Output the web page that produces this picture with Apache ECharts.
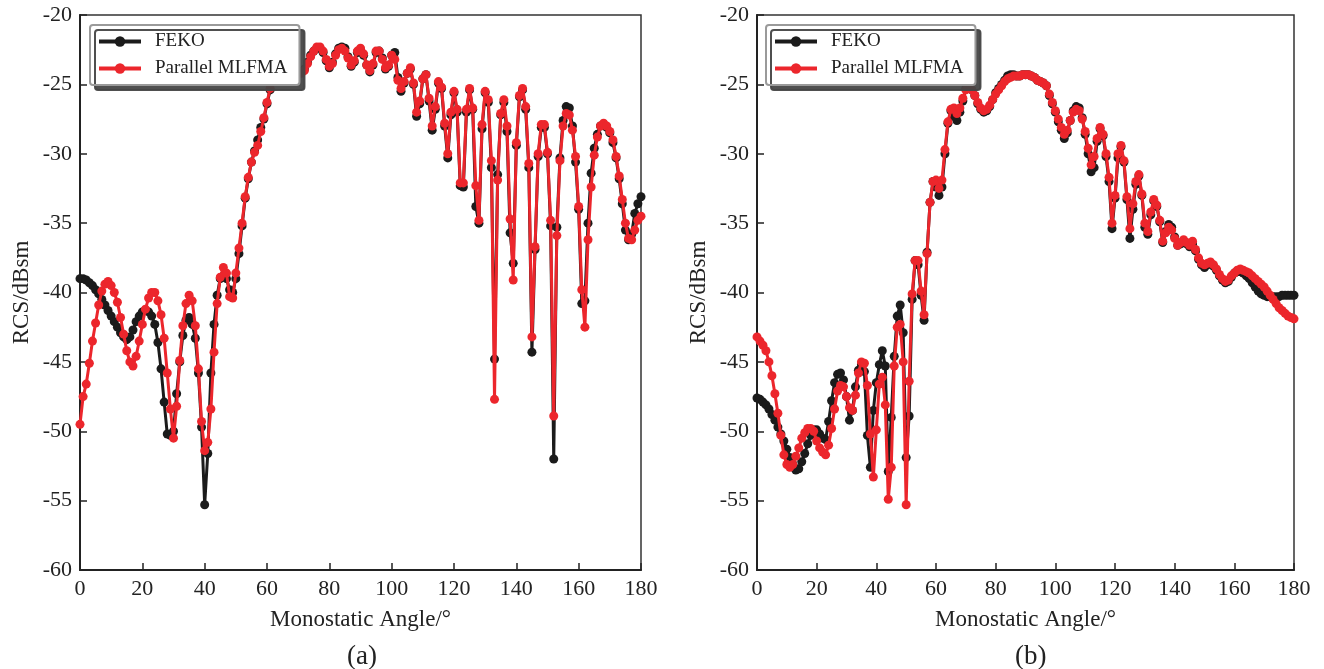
<!DOCTYPE html>
<html><head><meta charset="utf-8">
<script src="https://cdn.jsdelivr.net/npm/echarts@6/dist/echarts.min.js"></script>
<style>html,body{margin:0;padding:0;background:#fff}#c{width:1324px;height:669px}</style>
</head><body><div id="c"></div>
<script>
// Monostatic angle 0..180 step 1 degree
const angles = Array.from({length:181},(_,i)=>i);
const xTicks = [0,20,40,60,80,100,120,140,160,180];
const yTicks = [-60,-55,-50,-45,-40,-35,-30,-25,-20];
const seriesNames = ['FEKO','Parallel MLFMA'];
const panelLabels = ['(a)','(b)'];

// Panel (a)
const a_feko = [-39.0,-39.0,-39.1,-39.3,-39.5,-39.8,-40.1,-40.5,-40.9,-41.3,
-41.7,-42.1,-42.5,-42.9,-43.2,-43.4,-43.2,-42.7,-42.1,-41.7,
-41.4,-41.3,-41.4,-41.7,-42.3,-43.6,-45.5,-47.9,-50.2,-50.3,
-50.0,-47.3,-45.0,-43.1,-42.0,-41.8,-42.3,-43.3,-45.8,-49.7,
-55.3,-51.6,-45.8,-42.3,-40.2,-39.0,-38.8,-39.0,-39.8,-40.0,
-39.0,-37.2,-35.2,-33.2,-31.8,-30.6,-29.8,-29.0,-28.1,-27.5,
-26.4,-25.4,-24.8,-24.5,-24.4,-24.3,-24.3,-24.3,-24.3,-24.2,
-24.1,-24.1,-23.9,-23.4,-22.9,-22.6,-22.4,-22.4,-22.7,-23.3,
-23.8,-23.4,-22.8,-22.4,-22.3,-22.4,-23.0,-23.7,-23.4,-22.7,
-22.5,-22.9,-23.6,-24.1,-23.6,-22.7,-22.6,-23.1,-23.9,-23.7,
-22.9,-22.7,-24.5,-25.5,-24.9,-24.2,-23.9,-25.0,-27.3,-26.4,
-24.6,-24.3,-26.2,-28.3,-26.8,-24.9,-25.3,-28.0,-30.3,-27.2,
-25.6,-27.0,-32.3,-32.4,-27.0,-25.4,-26.8,-33.8,-35.0,-28.2,
-25.6,-26.3,-31.0,-44.8,-31.5,-27.2,-26.3,-28.4,-35.7,-37.9,
-29.4,-25.9,-25.4,-26.8,-31.0,-44.3,-36.9,-30.2,-28.1,-28.1,
-30.0,-35.2,-52.0,-35.3,-30.3,-27.6,-26.6,-26.7,-28.0,-30.6,
-34.0,-40.8,-40.6,-35.0,-31.4,-29.6,-28.6,-28.0,-27.9,-28.1,
-28.5,-29.2,-30.3,-31.8,-33.6,-35.5,-36.2,-35.8,-34.3,-33.6,
-33.1];
const a_mlfma = [-49.5,-47.5,-46.6,-45.1,-43.5,-42.2,-40.9,-39.9,-39.4,-39.2,
-39.5,-40.0,-40.7,-41.8,-43.0,-44.2,-45.0,-45.3,-44.6,-43.5,
-42.3,-41.2,-40.4,-40.0,-40.0,-40.6,-41.6,-43.3,-45.8,-48.4,
-50.5,-48.2,-44.9,-42.4,-40.8,-40.2,-40.6,-42.4,-45.5,-49.3,
-51.4,-50.8,-48.4,-44.3,-40.8,-38.9,-38.2,-38.6,-40.3,-40.4,
-38.6,-36.8,-35.0,-33.1,-31.7,-30.6,-29.9,-29.4,-28.4,-27.4,
-26.3,-25.3,-24.7,-24.4,-24.3,-24.2,-24.2,-24.3,-24.3,-24.2,
-24.1,-24.2,-24.0,-23.5,-23.0,-22.6,-22.3,-22.3,-22.6,-23.2,
-23.7,-23.5,-22.9,-22.5,-22.4,-22.6,-23.1,-23.6,-23.3,-22.6,
-22.4,-22.8,-23.6,-24.0,-23.5,-22.6,-22.6,-23.2,-23.8,-23.6,
-22.9,-23.2,-24.7,-25.3,-24.8,-24.2,-23.8,-24.9,-27.0,-26.2,
-24.6,-24.3,-26.0,-28.0,-26.6,-24.8,-25.2,-27.8,-30.0,-27.0,
-25.5,-26.8,-32.1,-32.1,-26.8,-25.3,-26.7,-32.3,-34.8,-27.9,
-25.5,-26.1,-30.5,-47.7,-31.9,-27.1,-26.1,-28.0,-34.7,-39.1,
-29.2,-25.8,-25.3,-26.6,-30.7,-43.2,-36.7,-30.0,-27.9,-27.9,
-29.9,-34.8,-48.9,-35.9,-30.5,-28.0,-27.1,-27.2,-28.3,-30.2,
-33.8,-39.8,-42.5,-36.2,-32.4,-30.1,-28.8,-28.0,-27.8,-28.0,
-28.4,-29.0,-30.2,-31.6,-33.3,-35.0,-36.1,-36.2,-35.5,-34.8,
-34.5];

// Panel (b)
const b_feko = [-47.6,-47.7,-47.9,-48.1,-48.4,-48.8,-49.2,-49.7,-50.2,-50.7,
-51.3,-51.9,-52.4,-52.8,-52.7,-52.2,-51.6,-50.9,-50.3,-49.9,
-49.9,-50.2,-50.5,-50.6,-49.3,-47.8,-46.5,-45.9,-45.8,-46.3,
-47.5,-49.2,-48.5,-46.8,-45.6,-45.2,-45.7,-50.3,-52.6,-48.5,
-46.5,-45.2,-44.2,-45.3,-52.9,-49.0,-44.6,-41.7,-40.9,-42.9,
-51.9,-48.9,-40.5,-37.7,-38.0,-40.2,-42.0,-37.1,-33.5,-32.0,
-32.4,-33.0,-32.4,-30.0,-27.8,-26.9,-27.3,-27.6,-27.0,-26.2,
-25.3,-25.2,-25.4,-25.8,-26.4,-26.8,-27.0,-26.9,-26.6,-26.1,
-25.6,-25.3,-25.0,-24.7,-24.4,-24.3,-24.3,-24.4,-24.4,-24.3,
-24.3,-24.3,-24.4,-24.5,-24.7,-24.8,-24.9,-25.1,-25.8,-26.4,
-27.0,-27.7,-28.3,-28.9,-28.5,-27.6,-26.9,-26.6,-26.7,-27.4,
-28.6,-30.0,-31.3,-31.0,-29.1,-28.2,-28.7,-30.2,-32.0,-35.4,
-33.2,-30.3,-29.5,-30.6,-33.3,-36.1,-34.0,-32.2,-31.6,-33.0,
-35.3,-35.8,-34.4,-33.4,-33.8,-34.9,-36.4,-35.6,-35.1,-35.3,
-36.0,-36.6,-36.5,-36.3,-36.5,-36.7,-36.5,-37.0,-37.6,-38.0,
-38.2,-38.0,-37.9,-38.1,-38.4,-38.8,-39.1,-39.3,-39.2,-38.9,
-38.6,-38.5,-38.5,-38.6,-38.8,-39.0,-39.3,-39.6,-39.9,-40.1,
-40.2,-40.3,-40.3,-40.3,-40.3,-40.3,-40.2,-40.2,-40.2,-40.2,
-40.2];
const b_mlfma = [-43.2,-43.5,-43.8,-44.2,-45.0,-46.0,-47.3,-48.7,-50.3,-51.7,
-52.4,-52.6,-52.4,-51.8,-51.2,-50.5,-50.1,-49.8,-49.8,-50.0,
-50.7,-51.2,-51.5,-51.7,-51.0,-49.8,-48.4,-47.1,-46.7,-46.8,
-47.5,-48.3,-48.5,-47.4,-45.8,-45.0,-45.1,-46.7,-50.2,-53.3,
-49.9,-46.6,-46.1,-48.1,-54.9,-52.6,-45.3,-42.5,-42.3,-45.0,
-55.3,-46.4,-40.1,-37.7,-37.7,-39.9,-41.6,-37.2,-33.5,-32.0,
-31.9,-32.5,-31.9,-29.7,-27.7,-26.8,-26.7,-27.1,-26.7,-26.0,
-25.4,-25.3,-25.4,-25.8,-26.3,-26.7,-26.9,-26.8,-26.5,-26.1,
-25.7,-25.4,-25.1,-24.8,-24.6,-24.5,-24.4,-24.4,-24.4,-24.3,
-24.3,-24.3,-24.4,-24.5,-24.7,-24.8,-24.9,-25.1,-25.7,-26.3,
-26.9,-27.5,-28.1,-28.6,-28.3,-27.6,-27.0,-26.8,-26.9,-27.5,
-28.4,-29.6,-30.8,-30.2,-28.9,-28.1,-28.6,-30.0,-31.7,-35.0,
-33.0,-30.0,-29.4,-30.5,-33.1,-35.4,-33.6,-32.0,-31.5,-32.9,
-35.0,-35.6,-34.2,-33.3,-33.7,-34.8,-36.3,-35.7,-35.3,-35.5,
-36.1,-36.6,-36.4,-36.2,-36.4,-36.6,-36.3,-36.9,-37.5,-37.9,
-38.0,-37.9,-37.8,-38.0,-38.3,-38.7,-39.0,-39.2,-39.1,-38.8,
-38.6,-38.4,-38.3,-38.4,-38.5,-38.6,-38.8,-39.0,-39.2,-39.4,
-39.6,-39.9,-40.2,-40.5,-40.8,-41.1,-41.3,-41.5,-41.7,-41.8,
-41.9];

const FONT = '"Liberation Serif","Times New Roman",serif';
const BLACK = '#1b1b1b';
const RED = '#ec262c';

function pairs(arr){ return angles.map((a,i)=>[a,arr[i]]); }

function xAx(gi){
  return {
    gridIndex: gi, type:'value', min:xTicks[0], max:xTicks[xTicks.length-1], interval:20,
    name:'Monostatic Angle/°', nameLocation:'middle', nameGap:38,
    nameTextStyle:{fontFamily:FONT, fontSize:23, color:'#222'},
    axisLine:{show:true, onZero:false, lineStyle:{color:'#222', width:2}},
    axisTick:{show:true, inside:true, length:7, lineStyle:{color:'#222', width:1.5}},
    axisLabel:{fontFamily:FONT, fontSize:22, color:'#222', margin:8},
    splitLine:{show:false}
  };
}
function yAx(gi){
  return {
    gridIndex: gi, type:'value', min:yTicks[0], max:yTicks[yTicks.length-1], interval:5,
    name:'RCS/dBsm', nameLocation:'middle', nameGap:47,
    nameTextStyle:{fontFamily:FONT, fontSize:23, color:'#222'},
    axisLine:{show:true, onZero:false, lineStyle:{color:'#222', width:2}},
    axisTick:{show:true, inside:true, length:7, lineStyle:{color:'#222', width:1.5}},
    axisLabel:{fontFamily:FONT, fontSize:22, color:'#222', margin:8},
    splitLine:{show:false}
  };
}
function ser(name, data, gi, color, z){
  return {
    name, type:'line', xAxisIndex:gi, yAxisIndex:gi, data:pairs(data),
    symbol:'circle', symbolSize:9, showSymbol:true, z,
    lineStyle:{color, width:3}, itemStyle:{color, borderWidth:0},
    animation:false
  };
}
function leg(left){
  return {
    data: seriesNames, orient:'vertical', left, top:25,
    itemWidth:42, itemHeight:13, itemGap:8, padding:[7,12,7,7],
    lineStyle:{width:4},
    backgroundColor:'#fff', borderColor:'#9a9a9a', borderWidth:2, borderRadius:3,
    shadowColor:'rgba(70,70,70,0.95)', shadowOffsetX:5, shadowOffsetY:5, shadowBlur:0,
    textStyle:{fontFamily:FONT, fontSize:19, color:'#222', padding:[0,0,0,9]}
  };
}

const chart = echarts.init(document.getElementById('c'), null, {renderer:'canvas'});
chart.setOption({
  animation:false,
  backgroundColor:'#fff',
  title:[
    {text:panelLabels[0], left:342, top:638, textStyle:{fontFamily:FONT, fontSize:27, fontWeight:'normal', color:'#222'}},
    {text:panelLabels[1], left:1010, top:638, textStyle:{fontFamily:FONT, fontSize:27, fontWeight:'normal', color:'#222'}}
  ],
  legend:[leg(90), leg(766)],
  grid:[
    {left:80, top:15, width:561, height:555, show:true, borderColor:'#333', borderWidth:1.5, backgroundColor:'transparent'},
    {left:757, top:15, width:537, height:555, show:true, borderColor:'#333', borderWidth:1.5, backgroundColor:'transparent'}
  ],
  xAxis:[xAx(0), xAx(1)],
  yAxis:[yAx(0), yAx(1)],
  series:[
    ser(seriesNames[0], a_feko, 0, BLACK, 2),
    ser(seriesNames[1], a_mlfma, 0, RED, 3),
    ser(seriesNames[0], b_feko, 1, BLACK, 2),
    ser(seriesNames[1], b_mlfma, 1, RED, 3)
  ]
});
</script></body></html>
